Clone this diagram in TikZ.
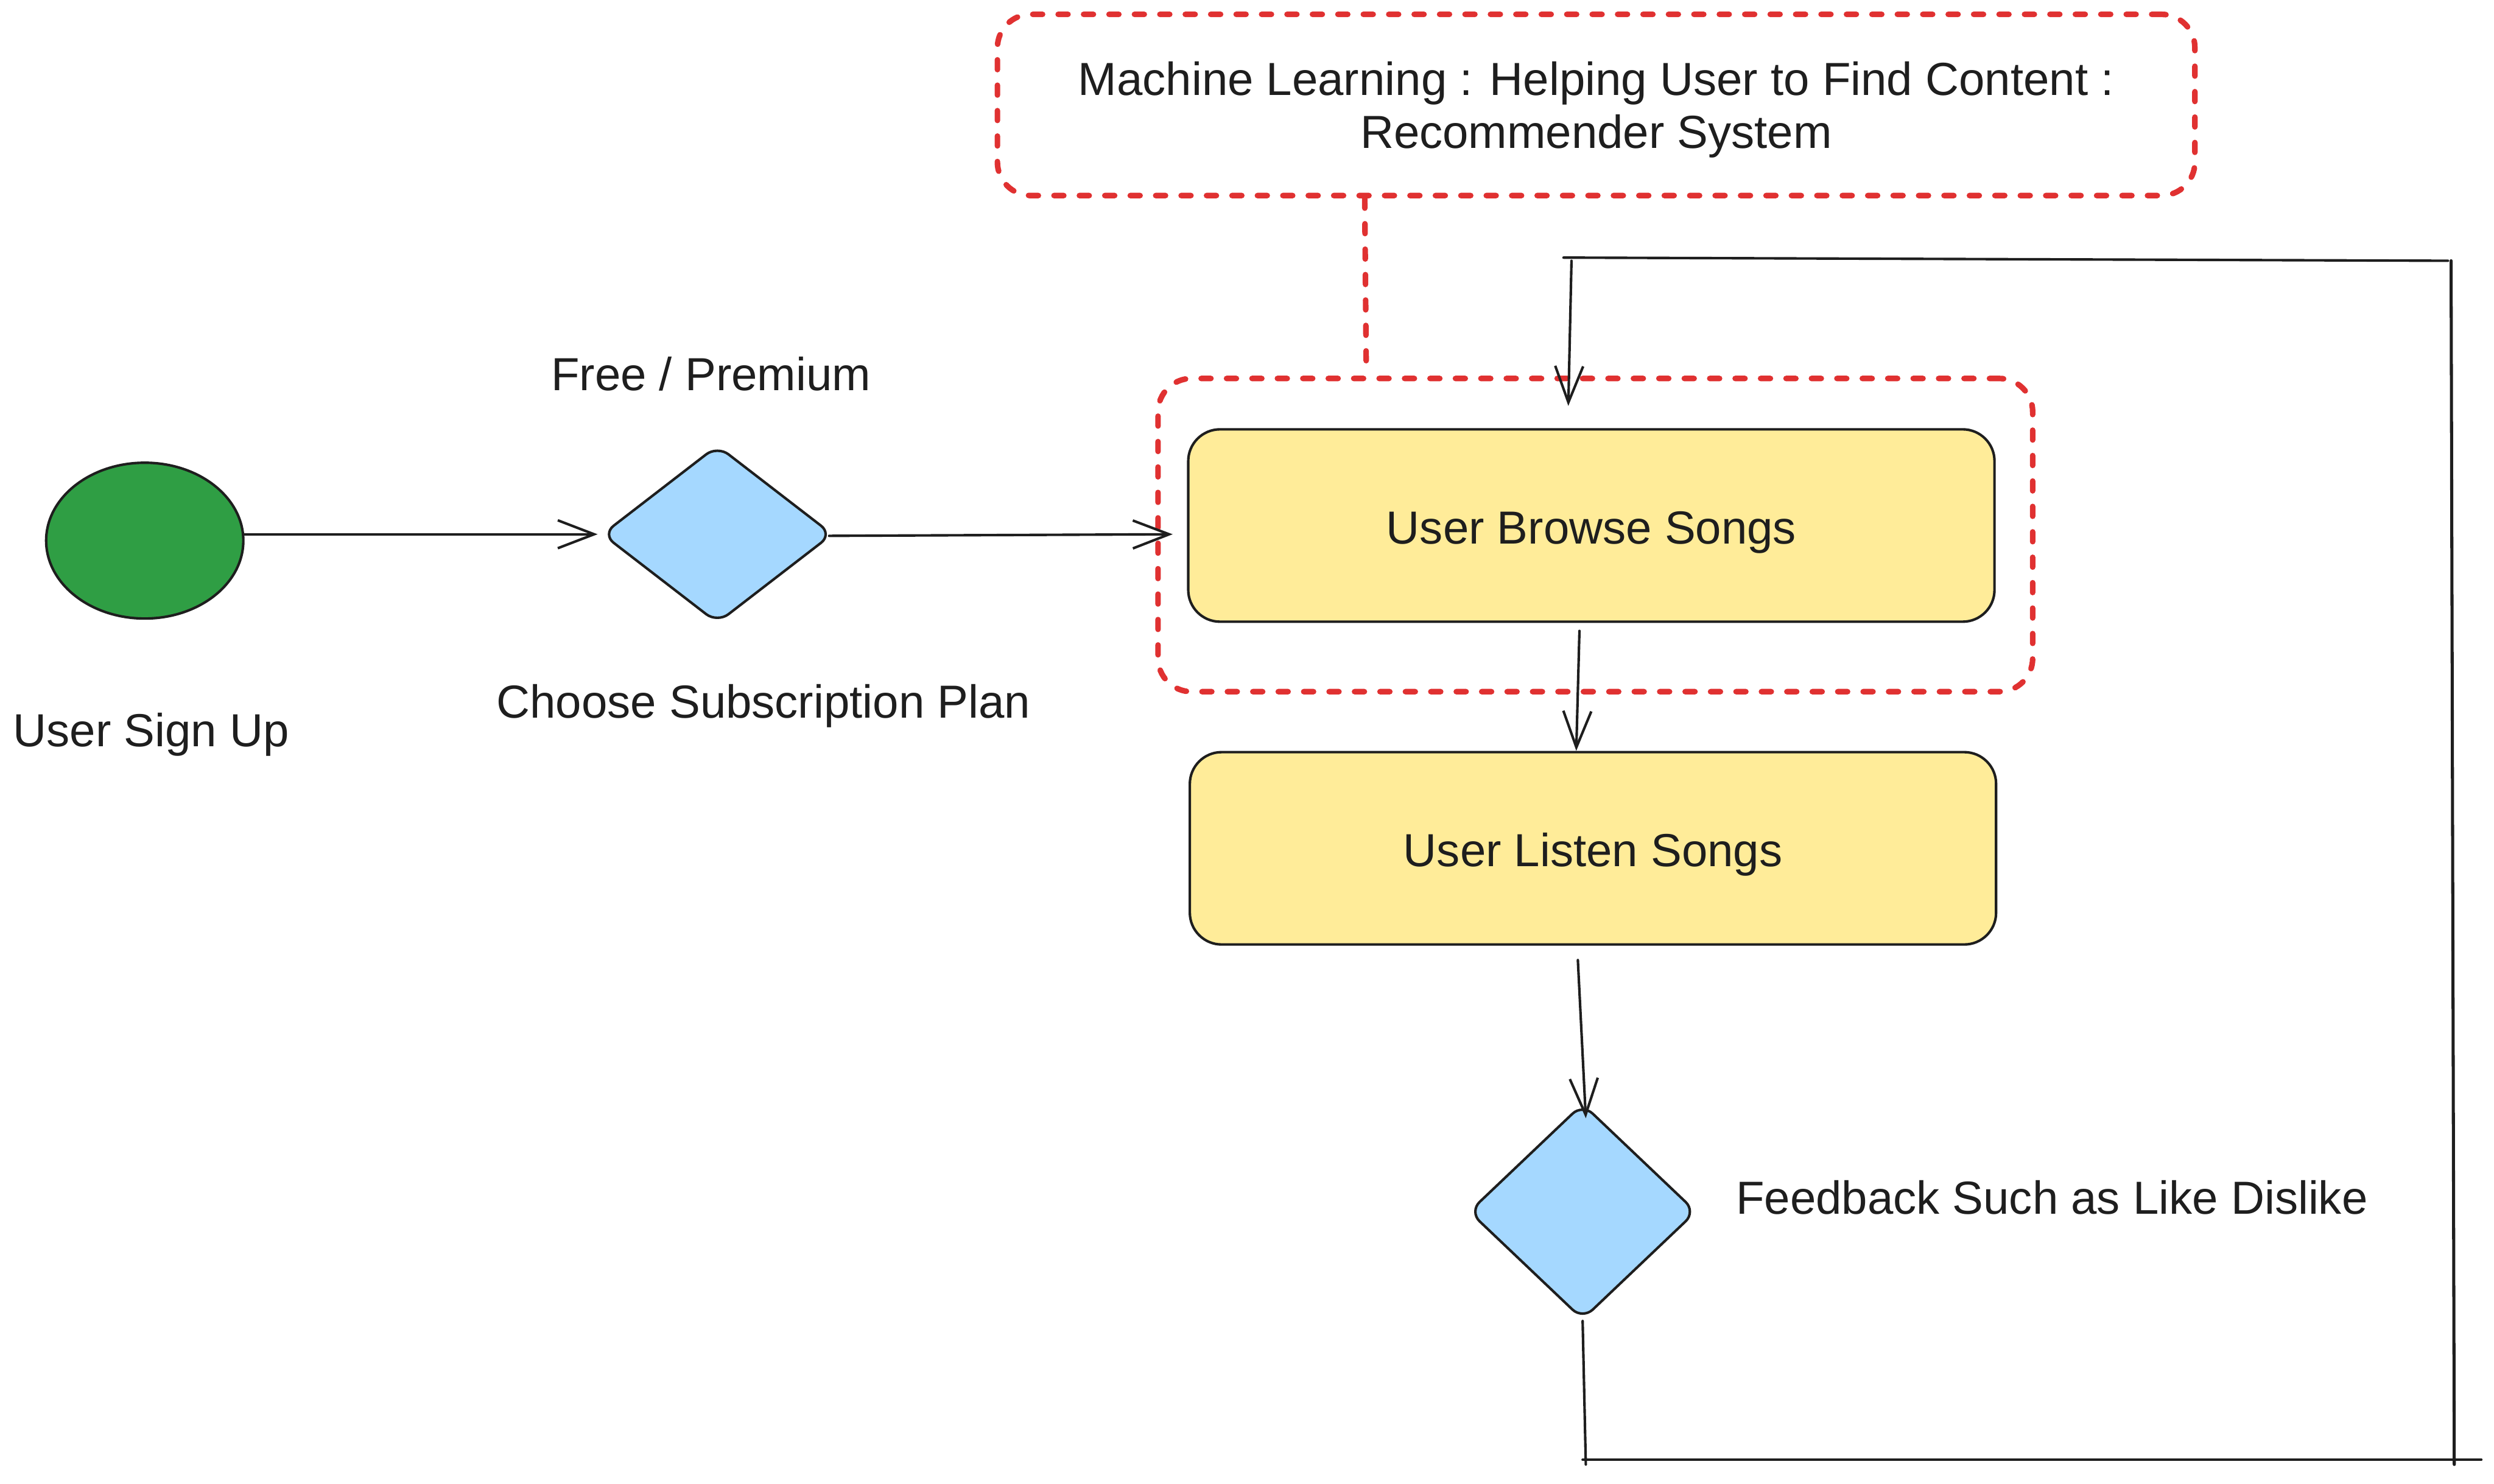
\documentclass[tikz,border=0pt]{standalone}
\usepackage{fontspec}
\setmainfont{Liberation Sans}
\usetikzlibrary{shapes.geometric,arrows.meta,calc}
\definecolor{ink}{HTML}{1E1E1E}
\definecolor{exgreen}{HTML}{2F9E44}
\definecolor{exblue}{HTML}{A5D8FF}
\definecolor{exyellow}{HTML}{FFEC99}
\definecolor{exred}{HTML}{E03131}
\tikzset{
  every node/.style={font=\fontsize{16.6}{18.8}\selectfont, text=ink},
  startnode/.style={ellipse, draw=ink, line width=0.9pt, fill=exgreen, minimum width=2.48cm, minimum height=1.96cm, inner sep=0pt},
  decision/.style={diamond, draw=ink, line width=0.9pt, fill=exblue, rounded corners=5pt, inner sep=0pt, shape aspect=1},
  activity/.style={rectangle, draw=ink, line width=0.9pt, fill=exyellow, rounded corners=0.4cm, minimum width=10.14cm, minimum height=2.42cm, inner sep=0pt, text depth=0pt},
  redbox/.style={rectangle, draw=exred, line width=2pt, line cap=round, dash pattern=on 3.5pt off 5.6pt, rounded corners=0.42cm, inner sep=0pt},
  reddash/.style={draw=exred, line width=2pt, line cap=round, dash pattern=on 3.5pt off 5.6pt},
  label/.style={inner sep=0pt},
  conn/.style={draw=ink, line width=0.9pt, line cap=round, -{Straight Barb[length=13pt,width=10pt,line width=0.9pt]}},
  plain/.style={draw=ink, line width=0.9pt, line cap=round},
}
\begin{document}
\begin{tikzpicture}[x=0.02cm,y=-0.02cm]
\useasboundingbox[fill=white] (0,0) rectangle (1568,933);

% nodes
\node[startnode] (signup) at (91,340) {};
\node[label] (signuplbl) at (95,462) {User Sign Up};
\node[decision, minimum width=2.9cm, minimum height=2.24cm] (plan) at (451,336) {};
\node[label] (freelbl) at (447,235) {Free / Premium};
\node[label] (planlbl) at (480,444) {Choose Subscription Plan};

\node[redbox, minimum width=15.06cm, minimum height=2.28cm, align=center, text depth=0pt] (ml) at (1003.5,66)
  {Machine Learning : Helping User to Find Content :\\Recommender System};
\node[redbox, minimum width=11cm, minimum height=3.94cm] (focus) at (1003,336.5) {};

\node[activity, text height=13.2pt] (browse) at (1000.5,330.5) {User Browse Songs};
\node[activity, text height=13.2pt] (listen) at (1001.5,533.5) {User Listen Songs};

\node[decision, minimum width=2.86cm, minimum height=2.72cm] (fb) at (995,762) {};
\node[label] (fblbl) at (1290,753) {Feedback Such as Like Dislike};

% loop coordinates
\coordinate (fbend) at (997,921);
\coordinate (bl) at (995,918);
\coordinate (br) at (1560,918);
\coordinate (rb) at (1543,921);
\coordinate (rt) at (1541,164);
\coordinate (tl) at (983,162);
\coordinate (tr) at (1539,164);
\coordinate (astart) at (988,164);

% connectors
\draw[conn] ($(signup.east)+(0,-4)$) -- ($(plan.west)+(-2,0)$);
\draw[conn] ($(plan.east)+(-3,1)$) -- ($(browse.west)+(-9,5.5)$);
\draw[conn] ($(browse.south)+(-7.5,5)$) -- ($(listen.north)+(-10.5,0)$);
\draw[conn] ($(listen.south)+(-9.5,9)$) -- ($(fb.north)+(2,10)$);
\draw[plain] (fb.south) -- (fbend);
\draw[plain] (bl) -- (br);
\draw[plain, line width=1.1pt] (rb) -- (rt);
\draw[plain] (tl) -- (tr);
\draw[conn] (astart) -- ($(focus.north)+(-17,19)$);

% dashed link
\draw[reddash] ($(ml.south)+(-145.5,0)$) -- ($(focus.north)+(-144,0)$);
\end{tikzpicture}
\end{document}
